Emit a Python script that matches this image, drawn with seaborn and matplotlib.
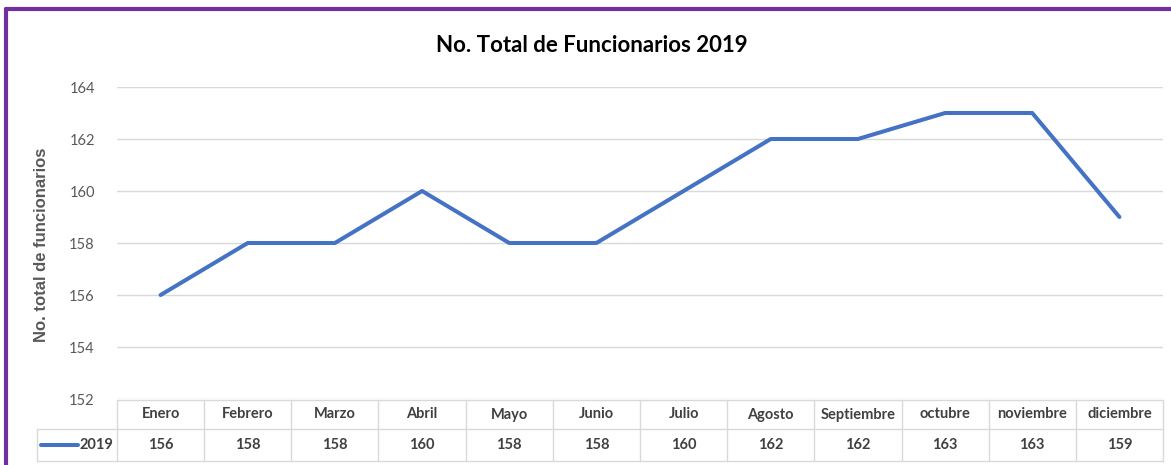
import matplotlib
matplotlib.use("Agg")
import matplotlib.pyplot as plt
import matplotlib.transforms as mtransforms
from matplotlib.lines import Line2D
import seaborn as sns
import pandas as pd

months = ["Enero", "Febrero", "Marzo", "Abril", "Mayo", "Junio", "Julio",
          "Agosto", "Septiembre", "octubre", "noviembre", "diciembre"]
values_2019 = [156, 158, 158, 160, 158, 158, 160, 162, 162, 163, 163, 159]
series_name = "2019"
y_ticks = [152, 154, 156, 158, 160, 162, 164]

LINE = "#4472C4"
GRID = "#D9D9D9"
TXT = "#595959"
CELL_TXT = "#404040"

sns.set_style("white")
plt.rcParams["font.family"] = ["Lato", "DejaVu Sans"]

W, H = 1171, 465
fig = plt.figure(figsize=(W / 100, H / 100), dpi=100)
# plot area in pixels: x 117..1163, y 87..399
ax = fig.add_axes([117 / W, 1 - 399 / H, (1163 - 117) / W, (399 - 87) / H])

df = pd.DataFrame({"mes": months, "n": values_2019})
sns.lineplot(data=df, x="mes", y="n", ax=ax, color=LINE, linewidth=2.9,
             sort=False)

ax.set_xlim(-0.5, len(months) - 0.5)
ax.set_ylim(y_ticks[0], y_ticks[-1])
ax.set_yticks(y_ticks)
ax.set_xticks([])
ax.set_xlabel("")
ax.set_ylabel("")
ax.grid(axis="y", color=GRID, linewidth=1)
for s in ax.spines.values():
    s.set_visible(False)
ax.tick_params(axis="y", length=0, pad=16, labelsize=10.5, labelcolor=TXT)

fig.text(42 / W, 1 - 245 / H, "No. total de funcionarios", rotation=90,
         ha="center", va="center", fontsize=12, fontweight="bold",
         color=TXT, family=["Liberation Sans", "DejaVu Sans"])
fig.text(592 / W, 1 - 45 / H, "No. Total de Funcionarios 2019",
         ha="center", va="center", fontsize=16, fontweight="bold",
         color="black")

# data table under the plot (x in data units, y in axes units)
trans = mtransforms.blended_transform_factory(ax.transData, ax.transAxes)
ah = 399 - 87
y_top = -1 / ah
y_mid = -(429 - 399) / ah
y_bot = -(461 - 399) / ah
x_leg = -0.5 - (117 - 37) / ((1163 - 117) / len(months))
n = len(months)
kw = dict(transform=trans, color=GRID, linewidth=1, clip_on=False)
ax.add_line(Line2D([-0.5, n - 0.5], [y_top, y_top], **kw))
ax.add_line(Line2D([x_leg, n - 0.5], [y_mid, y_mid], **kw))
ax.add_line(Line2D([x_leg, n - 0.5], [y_bot, y_bot], **kw))
ax.add_line(Line2D([x_leg, x_leg], [y_mid, y_bot], **kw))
for i in range(n + 1):
    ax.add_line(Line2D([i - 0.5, i - 0.5], [y_top, y_bot], **kw))
for i, (m, v) in enumerate(zip(months, values_2019)):
    ax.text(i, (y_top + y_mid) / 2, m, transform=trans, ha="center",
            va="center", fontsize=10.5, fontweight="bold", color=CELL_TXT)
    ax.text(i, (y_mid + y_bot) / 2, str(v), transform=trans, ha="center",
            va="center", fontsize=10.5, fontweight="bold", color=CELL_TXT)

# legend key inside the table
fig.add_artist(Line2D([41 / W, 78 / W], [1 - 445 / H] * 2, color=LINE,
                      linewidth=2.9))
fig.text(79 / W, 1 - 445 / H, series_name, ha="left", va="center",
         fontsize=10.5, fontweight="bold", color=CELL_TXT)

# purple frame (top and left edges visible)
fig.add_artist(Line2D([6 / W, 1], [1 - 9 / H] * 2, color="#7030A0",
                      linewidth=3))
fig.add_artist(Line2D([6 / W] * 2, [0, 1 - 9 / H], color="#7030A0",
                      linewidth=3))

fig.savefig("out.png", dpi=100)
